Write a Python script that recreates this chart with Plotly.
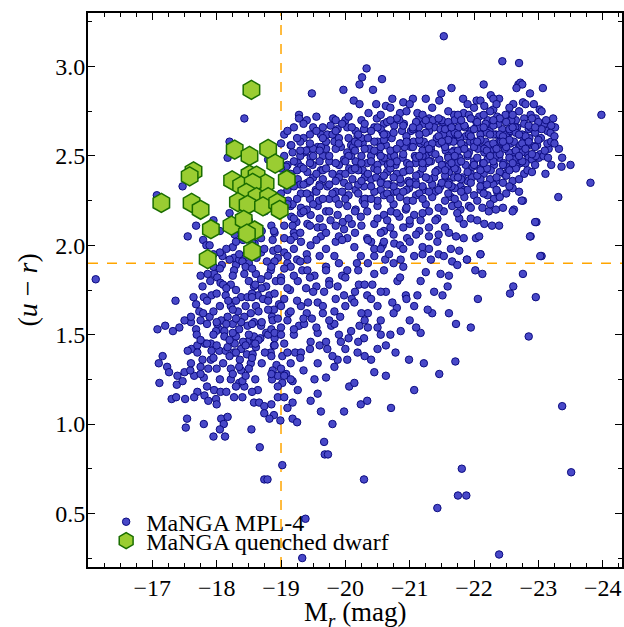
import plotly.graph_objects as go

# ---------------- data ----------------
# MaNGA MPL-4 sample: (M_r, u-r)
mpl4_blue_cloud = [
    (-16.12,1.81),(-17.07,2.28),(-17.47,2.33),(-17.68,2.11),(-17.55,2.05),(-17.79,2.03),(-17.84,2.00),
    (-18.09,1.94),(-18.25,1.99),(-18.08,1.89),(-17.36,1.69),(-17.08,1.53),(-17.20,1.55),(-17.32,1.52),
    (-17.42,1.54),(-17.16,1.38),(-17.10,1.34),(-17.23,1.32),(-17.11,1.23),(-17.26,1.29),(-17.30,1.14),
    (-17.37,1.15),(-17.51,1.14),(-17.54,1.03),(-17.52,0.98),(-17.80,1.00),(-17.95,0.93),(-18.13,0.93),
    (-18.07,1.03),(-18.17,1.04),(-18.11,1.00),(-18.05,0.97),(-18.54,0.97),(-18.67,0.87),(-18.74,0.69),
    (-17.61,1.42),(-17.55,1.41),(-17.70,1.44),(-17.78,1.36),(-17.91,1.36),(-17.87,1.31),(-17.80,1.26),
    (-17.65,1.27),(-17.50,1.29),(-17.39,1.27),(-17.38,1.22),(-17.47,1.24),(-17.59,1.30),(-17.70,1.18),
    (-17.81,1.16),(-17.87,1.13),(-17.96,1.19),(-18.06,1.18),(-17.99,1.14),(-17.91,1.45),(-17.92,1.41),
    (-17.82,1.45),(-17.68,1.53),(-17.69,1.50),(-17.60,1.57),(-17.50,1.58),(-17.60,1.60),(-17.73,1.63),
    (-17.68,1.67),(-17.64,1.71),(-17.92,1.72),(-17.78,1.77),(-17.75,1.83),(-17.96,1.84),(-17.86,1.84),
    (-18.01,1.82),(-18.06,1.79),(-18.14,1.72),(-18.04,1.41),(-18.14,1.41),(-18.22,1.31),(-18.27,1.40),
    (-18.36,1.36),(-18.38,1.42),(-18.47,1.39),(-18.53,1.45),(-18.48,1.46),(-18.58,1.49),(-18.68,1.48),
    (-18.61,1.43),(-18.56,1.39),(-18.53,1.34),(-18.38,1.30),(-18.22,1.25),(-18.35,1.23),(-18.43,1.21),
    (-18.40,1.24),(-18.27,1.15),(-18.64,1.19),(-18.58,1.12),(-18.66,1.12),(-18.74,1.10),(-18.74,1.06),
    (-18.27,1.93),(-18.30,1.89),(-18.35,1.92),(-18.43,1.94),(-18.51,1.98),(-18.61,1.98),(-18.69,1.96),
    (-18.74,1.98),(-18.27,1.86),(-18.43,1.84),(-18.61,1.84),(-18.69,1.81),(-18.77,1.77),(-18.58,1.77),
    (-18.22,1.78),(-18.30,1.75),(-18.38,1.71),(-18.48,1.71),(-18.64,1.72),(-18.72,1.70),(-18.61,1.66),
    (-18.53,1.62),(-18.43,1.60),(-18.33,1.63),(-18.22,1.66),(-18.17,1.60),(-18.07,1.58),(-18.04,1.53),
    (-18.12,1.52),(-18.25,1.56),(-18.38,1.57),(-18.48,1.55),(-18.58,1.57),(-18.69,1.55),(-18.77,1.51),
    (-18.30,1.49),(-18.41,1.46),(-18.28,1.45),(-18.17,1.43),(-17.99,1.52),(-18.01,1.56),(-18.12,1.49),
    (-18.28,2.06),(-18.41,2.03),(-18.59,2.01),(-18.69,2.04),(-18.18,1.69),(-17.79,1.62),(-17.75,1.58),
    (-17.89,1.60),(-18.43,2.71),(-18.20,2.58),(-18.17,2.49),(-18.80,2.48),(-18.85,2.11),(-18.90,2.07),
    (-18.87,2.03),(-17.89,2.00),(-18.05,1.96),(-18.20,1.92),(-18.35,1.95),(-18.50,1.90),(-18.62,1.93),
    (-18.78,1.91),(-18.95,1.93),(-19.10,1.90),(-19.25,1.92),(-19.40,1.95),(-18.88,1.97),(-19.05,1.96),
    (-18.82,1.72),(-18.86,1.60),(-18.90,1.48),(-18.84,1.40),(-18.93,1.33),(-18.86,1.25),(-18.95,1.15),
    (-18.80,1.50),(-18.92,1.80),(-18.97,1.67),(-19.05,1.45),(-19.12,1.62),(-19.08,1.28),(-19.14,1.75),
    (-19.22,1.40),(-19.18,1.12),(-19.28,1.55),(-19.35,1.30),(-19.42,1.68),(-19.33,1.86),(-19.48,1.59),
    (-19.52,1.25),(-19.60,1.44),(-19.65,1.62),(-19.55,1.77),(-19.70,1.88),(-19.78,1.55),(-19.88,1.36),
    (-19.92,1.60),(-19.95,1.83),(-20.05,1.48),(-20.10,1.70),(-20.18,1.90),(-20.22,1.55),(-20.35,1.62),
    (-20.42,1.78),(-20.55,1.58),(-20.62,1.92),(-20.70,1.50),(-20.80,1.65),(-20.90,1.88),(-21.00,1.58),
    (-21.12,1.72),(-21.25,1.85),(-21.35,1.62),(-21.45,1.95),
]

mpl4_middle = [
    (-21.53,3.17),(-20.33,2.99),(-20.26,2.94),(-20.57,2.93),(-20.22,2.90),(-19.48,2.85),(-19.97,2.87),
    (-20.43,2.87),(-20.13,2.81),(-20.22,2.79),(-20.48,2.79),(-20.73,2.82),(-20.90,2.80),(-21.05,2.82),
    (-21.25,2.82),(-21.49,2.85),(-21.46,2.81),(-20.63,2.78),(-19.28,2.73),(-19.28,2.71),(-19.81,2.71),
    (-20.36,2.74),(-20.49,2.71),(-20.85,2.74),(-21.15,2.71),(-21.30,2.71),(-21.40,2.69),(-21.51,2.69),
    (-19.77,2.67),(-19.88,2.65),(-20.03,2.66),(-20.16,2.64),(-20.29,2.65),(-20.45,2.66),(-20.58,2.63),
    (-20.76,2.67),(-20.91,2.68),(-21.07,2.65),(-21.22,2.68),(-21.38,2.66),(-21.48,2.65),(-19.62,2.62),
    (-20.19,2.61),(-19.15,2.56),(-19.44,2.54),(-19.57,2.55),(-19.70,2.54),(-19.83,2.58),(-19.93,2.55),
    (-20.09,2.56),(-20.27,2.57),(-20.37,2.54),(-20.50,2.58),(-20.63,2.56),(-20.76,2.53),(-20.86,2.57),
    (-21.02,2.55),(-21.17,2.57),(-21.33,2.54),(-21.46,2.57),(-21.56,2.53),(-19.36,2.52),(-20.03,2.52),
    (-19.10,2.45),(-19.26,2.46),(-19.31,2.44),(-19.41,2.41),(-19.49,2.45),(-19.62,2.42),(-19.75,2.47),
    (-19.80,2.40),(-19.90,2.45),(-19.98,2.48),(-20.06,2.43),(-20.16,2.47),(-20.27,2.42),(-20.34,2.46),
    (-20.45,2.43),(-20.58,2.47),(-20.65,2.41),(-20.78,2.45),(-20.89,2.49),(-20.96,2.42),(-21.09,2.46),
    (-21.20,2.43),(-21.33,2.47),(-21.43,2.42),(-21.53,2.45),(-19.46,2.49),(-20.09,2.50),(-20.71,2.50),
    (-21.25,2.50),(-19.26,2.37),(-19.41,2.35),(-19.54,2.31),(-19.65,2.37),(-19.72,2.33),(-19.85,2.30),
    (-19.98,2.35),(-20.11,2.37),(-20.16,2.31),(-20.29,2.33),(-20.40,2.37),(-20.55,2.31),(-20.68,2.34),
    (-20.76,2.30),(-20.86,2.35),(-20.99,2.32),(-21.09,2.36),(-21.22,2.31),(-21.35,2.34),(-21.48,2.33),
    (-21.56,2.37),(-19.31,2.29),(-19.10,2.31),(-19.15,2.22),(-19.31,2.21),(-19.46,2.17),(-19.57,2.22),
    (-19.70,2.19),(-19.77,2.14),(-19.88,2.17),(-20.03,2.22),(-20.16,2.20),(-20.24,2.16),(-20.34,2.19),
    (-20.50,2.22),(-20.60,2.17),(-20.71,2.19),(-20.84,2.16),(-20.94,2.20),(-21.07,2.17),(-21.17,2.14),
    (-21.30,2.19),(-21.43,2.15),(-21.53,2.19),(-19.41,2.12),(-19.96,2.13),(-20.45,2.12),(-19.59,2.25),
    (-20.27,2.25),(-20.96,2.25),(-18.89,2.08),(-19.05,2.04),(-19.20,2.07),(-19.31,2.02),(-19.46,2.00),
    (-19.62,2.05),(-19.70,1.98),(-19.83,1.94),(-19.85,2.02),(-20.03,2.04),(-20.14,1.99),(-20.24,1.94),
    (-20.34,2.04),(-20.45,1.98),(-20.58,2.00),(-20.68,1.95),(-20.76,2.01),(-20.86,1.92),(-20.96,2.04),
    (-21.07,1.94),(-21.20,1.99),(-21.33,1.92),(-21.43,2.02),(-21.53,1.94),(-19.10,1.94),(-19.41,1.92),
    (-19.57,2.10),(-19.98,2.09),(-20.60,2.08),(-21.15,2.08),(-18.84,1.86),(-19.00,1.82),(-19.15,1.88),
    (-19.26,1.80),(-19.39,1.76),(-19.52,1.83),(-19.67,1.74),(-19.75,1.80),(-19.88,1.77),(-20.03,1.86),
    (-19.98,1.72),(-20.14,1.68),(-20.21,1.78),(-20.34,1.72),(-20.45,1.84),(-20.50,1.66),(-20.63,1.74),
    (-20.73,1.68),(-20.81,1.80),(-20.94,1.72),(-21.07,1.66),(-21.17,1.80),(-21.28,1.64),(-21.38,1.74),
    (-21.51,1.72),(-21.48,1.84),(-19.05,1.70),(-18.89,1.64),(-19.31,1.66),(-19.57,1.68),(-19.83,1.63),
    (-19.41,1.86),(-18.87,1.58),(-19.00,1.54),(-19.10,1.58),(-19.20,1.50),(-19.36,1.56),(-19.46,1.46),
    (-19.57,1.51),(-19.72,1.42),(-19.83,1.56),(-19.93,1.46),(-20.09,1.52),(-20.19,1.40),(-20.29,1.48),
    (-20.40,1.36),(-20.50,1.54),(-20.63,1.44),(-20.78,1.40),(-20.86,1.52),(-20.99,1.36),(-21.17,1.51),
    (-21.22,1.34),(-18.89,1.44),(-19.02,1.38),(-19.15,1.34),(-19.31,1.40),(-19.57,1.34),(-19.83,1.32),
    (-20.03,1.36),(-18.87,1.30),(-18.95,1.27),(-19.02,1.23),(-19.18,1.24),(-19.26,1.19),(-19.46,1.13),
    (-19.57,1.17),(-19.62,1.07),(-19.70,1.26),(-19.98,1.07),(-20.06,1.21),(-20.14,1.23),(-20.24,1.11),
    (-20.34,1.13),(-20.45,1.29),(-20.63,1.27),(-20.71,1.09),(-21.07,1.19),(-21.46,1.28),(-19.10,1.09),
    (-18.89,1.05),(-18.99,1.02),(-19.18,1.03),(-19.25,1.01),(-18.82,1.03),(-19.80,1.00),(-19.67,0.90),
    (-19.68,0.83),(-19.73,0.83),(-19.02,0.77),(-20.29,0.69),(-18.79,0.69),(-19.38,0.47),(-19.33,0.25),
    (-21.43,0.53),(-19.16,2.56),(-19.18,2.52),(-19.08,2.44),(-19.39,2.53),(-19.16,2.16),(-19.24,2.13),
    (-19.18,2.11),(-19.31,2.18),(-19.21,2.05),(-19.11,2.25),(-19.18,2.23),
    (-19.05,2.62),(-19.20,2.66),(-19.35,2.60),(-19.50,2.66),(-19.62,2.55),(-19.72,2.62),(-19.90,2.60),
    (-20.00,2.70),(-20.12,2.55),(-20.25,2.60),(-20.40,2.50),(-19.15,2.38),(-19.30,2.34),(-19.45,2.28),
    (-19.60,2.34),(-19.75,2.26),(-19.92,2.40),(-20.05,2.28),(-20.20,2.42),(-20.32,2.26),(-20.48,2.38),
    (-19.02,2.25),(-19.40,2.20),(-19.65,2.10),(-19.90,2.05),(-20.10,2.12),(-20.40,2.02),(-20.70,2.10),
    (-21.00,2.12),(-21.30,2.05),(-21.55,2.10),(-20.55,1.98),(-20.85,2.00),(-21.20,1.95),
]

mpl4_red_sequence = [
    (-22.44,3.03),(-22.70,3.02),(-22.15,2.90),(-21.65,2.88),(-22.69,2.90),(-22.72,2.91),(-22.75,2.90),
    (-22.66,2.88),(-23.07,2.88),(-22.87,2.85),(-22.26,2.84),(-22.39,2.82),(-22.30,2.82),(-21.83,2.82),
    (-22.04,2.81),(-22.10,2.81),(-22.61,2.79),(-22.76,2.80),(-22.93,2.79),(-23.02,2.76),(-23.23,2.71),
    (-22.16,2.78),(-22.30,2.76),(-22.51,2.73),(-21.69,2.73),(-21.84,2.74),(-21.92,2.73),(-22.08,2.72),
    (-22.21,2.70),(-22.36,2.72),(-22.49,2.73),(-22.65,2.70),(-22.78,2.71),(-22.88,2.73),(-22.96,2.71),
    (-23.09,2.68),(-21.64,2.66),(-21.72,2.65),(-21.82,2.67),(-21.95,2.64),(-22.03,2.66),(-22.13,2.63),
    (-22.26,2.67),(-22.34,2.62),(-22.44,2.65),(-22.54,2.63),(-22.67,2.66),(-22.75,2.62),(-22.85,2.65),
    (-23.14,2.64),(-23.19,2.63),(-21.66,2.62),(-21.87,2.61),(-21.61,2.58),(-21.74,2.59),(-21.84,2.56),
    (-21.97,2.59),(-22.08,2.55),(-22.18,2.58),(-22.29,2.54),(-22.39,2.58),(-22.47,2.55),(-22.57,2.57),
    (-22.70,2.55),(-22.78,2.59),(-22.88,2.56),(-23.16,2.54),(-23.14,2.57),(-21.69,2.53),(-21.92,2.52),
    (-22.16,2.52),(-22.36,2.51),(-22.62,2.52),(-22.83,2.51),(-23.03,2.51),(-21.64,2.48),(-21.77,2.49),
    (-21.87,2.45),(-22.00,2.47),(-22.10,2.43),(-22.21,2.48),(-22.31,2.45),(-22.39,2.49),(-22.52,2.44),
    (-22.62,2.48),(-22.72,2.46),(-22.85,2.49),(-23.01,2.49),(-21.61,2.41),(-21.74,2.42),(-21.95,2.40),
    (-22.60,2.44),(-22.78,2.40),(-22.83,2.42),(-23.11,2.40),(-22.15,2.40),(-21.61,2.35),(-21.69,2.38),
    (-21.79,2.33),(-21.90,2.36),(-21.97,2.38),(-22.10,2.37),(-22.15,2.33),(-22.34,2.36),(-22.47,2.40),
    (-22.60,2.32),(-22.70,2.30),(-22.76,2.25),(-21.64,2.27),(-21.85,2.31),(-22.10,2.31),(-22.21,2.28),
    (-22.36,2.30),(-22.31,2.26),(-21.66,2.22),(-21.79,2.20),(-21.92,2.22),(-22.13,2.21),(-22.23,2.19),
    (-22.34,2.20),(-22.62,2.20),(-21.77,2.15),(-21.84,2.12),(-21.95,2.15),(-22.05,2.14),(-22.16,2.12),
    (-22.28,2.11),(-22.39,2.11),(-21.74,2.18),(-21.61,2.07),(-21.72,2.05),(-21.84,2.04),(-22.03,2.04),
    (-22.08,2.05),(-21.64,1.98),(-21.77,1.97),(-22.10,1.95),(-21.66,1.91),(-21.74,1.89),(-21.89,1.92),
    (-22.88,2.05),(-22.97,2.13),(-23.05,1.94),
    (-20.52,2.52),(-20.60,2.68),(-20.66,2.45),(-20.72,2.60),(-20.80,2.40),(-20.84,2.70),(-20.92,2.55),
    (-20.98,2.36),(-21.02,2.64),(-21.08,2.50),(-21.12,2.74),(-21.16,2.40),(-21.22,2.58),(-21.26,2.46),
    (-21.30,2.64),(-21.34,2.52),(-21.38,2.38),(-21.42,2.60),(-21.46,2.48),(-21.50,2.70),(-21.54,2.56),
    (-21.58,2.44),(-21.62,2.62),(-21.66,2.52),(-21.70,2.70),(-21.74,2.46),(-21.78,2.60),(-21.82,2.38),
    (-21.86,2.66),(-21.90,2.50),(-21.94,2.58),(-21.98,2.44),(-22.02,2.70),(-22.06,2.54),(-22.10,2.62),
    (-22.14,2.46),(-22.18,2.68),(-22.22,2.56),(-22.26,2.42),(-22.30,2.62),(-22.34,2.50),(-22.38,2.68),
    (-22.42,2.58),(-22.46,2.46),(-22.50,2.62),(-22.54,2.52),(-22.58,2.70),(-22.62,2.58),(-22.66,2.44),
    (-22.70,2.62),(-22.74,2.52),(-22.78,2.68),(-22.82,2.56),(-22.86,2.60),(-22.90,2.48),(-22.94,2.64),
    (-22.98,2.56),(-23.04,2.60),(-23.08,2.50),(-23.12,2.70),(-23.20,2.58),(-23.26,2.66),(-23.32,2.54),
    (-20.56,2.36),(-20.64,2.62),(-20.76,2.50),(-20.88,2.64),(-20.96,2.46),(-21.06,2.58),(-21.14,2.66),
    (-21.20,2.50),(-21.28,2.56),(-21.36,2.70),(-21.44,2.42),(-21.52,2.62),(-21.60,2.50),(-21.68,2.58),
    (-21.76,2.66),(-21.84,2.54),(-21.92,2.62),(-22.00,2.58),(-22.08,2.66),(-22.16,2.54),(-22.24,2.64),
    (-22.32,2.56),(-22.40,2.62),(-22.48,2.54),(-22.56,2.64),(-22.64,2.66),(-22.72,2.56),(-22.80,2.46),
    (-22.88,2.66),(-22.96,2.50),(-21.40,2.30),(-21.70,2.32),(-22.00,2.28),(-22.30,2.34),(-22.60,2.36),
    (-21.10,2.28),(-20.80,2.30),(-20.60,2.28),
]

mpl4_outliers = [
    (-23.98,2.73),(-23.81,2.35),(-23.31,2.27),(-23.37,2.49),(-23.50,2.45),(-23.36,2.44),(-23.20,2.45),
    (-22.95,2.13),(-22.87,2.05),(-23.03,1.94),(-22.76,1.84),(-22.61,1.77),(-22.56,1.73),(-22.96,1.71),
    (-22.85,1.49),(-23.37,1.10),(-23.51,0.73),(-22.39,0.27),(-21.81,0.75),(-21.75,0.60),(-21.88,0.60),
    (-21.71,1.35),(-21.95,1.54),(-21.72,1.56),(-22.06,1.70),(-22.02,1.86),(-22.13,1.84),(-21.89,1.92),
    (-22.10,1.95),(-22.60,2.19),(-22.74,2.25),(-21.61,1.83),(-21.59,1.77),(-21.61,1.62),
]

# denser parts of the cloud, read row by row: (u-r, [M_r values])
red_core_rows = [
    (2.79, [-21.0, -21.9, -22.35, -22.8]),
    (2.77, [-20.7, -21.35, -22.0, -22.55]),
    (2.75, [-20.95, -21.6, -22.25, -22.7, -23.05]),
    (2.73, [-20.55, -21.2, -21.75, -22.15, -22.6]),
    (2.71, [-20.8, -21.45, -21.95, -22.4, -22.9]),
    (2.69, [-20.65, -21.1, -21.6, -22.05, -22.5, -23.0]),
    (2.67, [-20.9, -21.3, -21.85, -22.3, -22.85, -23.2]),
    (2.65, [-20.55, -21.05, -21.55, -22.0, -22.55, -23.05]),
    (2.63, [-20.75, -21.25, -21.7, -22.2, -22.65, -22.95]),
    (2.61, [-20.95, -21.45, -21.95, -22.45, -22.8, -23.25]),
    (2.59, [-20.6, -21.15, -21.6, -22.1, -22.55, -23.0]),
    (2.57, [-20.85, -21.35, -21.8, -22.3, -22.75, -23.25]),
    (2.55, [-20.55, -21.05, -21.55, -22.0, -22.5, -22.95]),
    (2.53, [-20.7, -21.2, -21.75, -22.2, -22.65, -23.1]),
    (2.51, [-20.9, -21.4, -21.9, -22.4, -22.9]),
    (2.49, [-20.6, -21.1, -21.6, -22.05, -22.55, -23.15]),
    (2.47, [-20.8, -21.3, -21.8, -22.3, -22.75]),
    (2.45, [-20.5, -21.0, -21.5, -22.0, -22.45, -22.95]),
    (2.43, [-20.7, -21.2, -21.7, -22.2, -22.65]),
    (2.41, [-20.9, -21.4, -21.9, -22.4, -22.9]),
    (2.39, [-20.6, -21.1, -21.55, -22.05, -22.5]),
    (2.37, [-20.85, -21.3, -21.8, -22.25, -22.7]),
    (2.35, [-20.55, -21.0, -21.5, -21.95, -22.45]),
    (2.33, [-20.75, -21.2, -21.65, -22.1, -22.55]),
    (2.31, [-20.95, -21.45, -21.9, -22.35]),
    (2.29, [-20.65, -21.15, -21.6, -22.15, -22.5]),
    (2.27, [-20.85, -21.35, -21.85, -22.4]),
    (2.25, [-20.5, -21.05, -21.55, -22.05]),
    (2.23, [-20.75, -21.25, -21.75, -22.25]),
    (2.21, [-20.95, -21.45, -21.95, -22.45]),
]

red_band_rows = [
    (2.70, [-19.4, -19.85, -20.25, -20.7, -21.25, -21.8, -22.3]),
    (2.66, [-19.65, -20.1, -20.5, -21.05, -21.65, -22.15, -22.6, -22.95]),
    (2.62, [-19.45, -19.8, -20.2, -20.6, -21.15, -21.75, -22.25, -22.7]),
    (2.58, [-19.3, -19.7, -20.15, -20.45, -20.95, -21.5, -22.05, -22.45, -22.85]),
    (2.54, [-19.5, -19.85, -20.3, -20.8, -21.3, -21.85, -22.35, -22.8]),
    (2.50, [-19.3, -19.65, -20.05, -20.55, -21.15, -21.7, -22.25, -22.7]),
    (2.46, [-19.45, -19.85, -20.25, -20.7, -21.2, -21.65, -22.15, -22.6]),
    (2.42, [-19.25, -19.65, -20.1, -20.5, -21.0, -21.55, -22.1, -22.55]),
    (2.38, [-19.5, -19.9, -20.3, -20.75, -21.25, -21.75, -22.35]),
    (2.34, [-19.35, -19.75, -20.2, -20.65, -21.1, -21.6, -22.2]),
    (2.30, [-19.55, -19.95, -20.45, -20.9, -21.3, -21.8]),
    (2.26, [-19.45, -19.85, -20.3, -20.7, -21.2, -21.7]),
]

green_valley_rows = [
    (2.72, [-19.55, -20.05]),
    (2.68, [-19.35, -19.95, -20.3]),
    (2.64, [-19.1, -19.55, -19.85, -20.4]),
    (2.60, [-19.25, -19.65, -20.05, -20.35]),
    (2.57, [-19.0, -19.45, -19.9, -20.2]),
    (2.53, [-19.3, -19.6, -20.15, -20.45]),
    (2.50, [-19.05, -19.5, -19.75, -20.25]),
    (2.47, [-19.2, -19.6, -20.0, -20.4]),
    (2.43, [-19.0, -19.35, -19.7, -20.15]),
    (2.40, [-19.15, -19.55, -20.0, -20.35]),
    (2.36, [-19.05, -19.45, -19.85, -20.25]),
    (2.33, [-19.2, -19.6, -20.05, -20.4]),
    (2.29, [-19.0, -19.4, -19.8, -20.2]),
    (2.26, [-19.25, -19.65, -20.0, -20.4, -18.9]),
    (2.23, [-19.1, -19.5, -19.9, -20.3, -18.6]),
    (2.19, [-19.0, -19.35, -19.75, -20.15, -18.75]),
    (2.18, [-20.8, -21.2, -18.2]),
    (2.15, [-19.2, -19.6, -20.05, -20.5]),
    (2.14, [-20.65, -21.0, -21.4, -17.95, -18.5]),
    (2.11, [-19.05, -19.45, -19.85, -20.25]),
    (2.10, [-20.9, -21.3]),
    (2.08, [-18.05, -18.7]),
    (2.07, [-19.3, -19.7, -20.15, -20.55]),
    (2.06, [-20.75, -21.1, -21.45]),
    (2.03, [-19.15, -19.55, -19.95, -20.35]),
    (2.02, [-20.6, -21.0, -18.3, -18.55]),
    (1.98, [-20.9, -21.3]),
]

blue_core_rows = [
    (1.98, [-18.15, -18.95, -19.2]),
    (1.95, [-17.95, -18.6]),
    (1.94, [-19.6, -20.45]),
    (1.91, [-18.4, -18.9, -19.3]),
    (1.90, [-19.9, -20.35, -20.75]),
    (1.88, [-17.95, -18.45, -18.85]),
    (1.87, [-18.05, -18.55, -19.05]),
    (1.86, [-19.7, -20.2, -20.6]),
    (1.83, [-18.25, -18.8, -19.2]),
    (1.82, [-19.45, -20.0, -20.85]),
    (1.80, [-17.9, -18.5, -19.0]),
    (1.78, [-19.75, -20.3, -18.1, -18.6]),
    (1.76, [-18.15, -18.7, -19.1]),
    (1.74, [-19.5, -20.15, -20.55]),
    (1.73, [-18.0, -18.55, -18.9]),
    (1.71, [-17.8, -18.55]),
    (1.70, [-19.85, -20.4, -20.95]),
    (1.69, [-17.85, -18.3, -18.8, -19.25]),
    (1.66, [-18.05, -18.45, -19.0, -19.65, -20.0]),
    (1.64, [-18.25, -18.8]),
    (1.63, [-17.95, -18.65, -19.15]),
    (1.62, [-19.4, -20.25, -20.75]),
    (1.59, [-18.3, -18.95, -19.35]),
    (1.58, [-19.75, -20.3]),
    (1.57, [-18.0, -18.7]),
    (1.56, [-17.85, -18.15, -18.55]),
    (1.54, [-19.55, -20.35, -21.1]),
    (1.53, [-18.35, -18.85, -19.2]),
    (1.51, [-18.25, -18.9]),
    (1.50, [-17.95, -18.5, -19.0, -19.9, -20.55]),
    (1.47, [-17.75, -18.2, -18.65]),
    (1.46, [-19.7, -20.2]),
    (1.45, [-17.85, -18.6]),
    (1.44, [-18.0, -18.45, -18.9]),
    (1.42, [-19.45, -20.0, -20.5]),
    (1.40, [-17.7, -18.3, -18.75, -19.1]),
    (1.38, [-19.8, -20.3, -18.2, -18.85]),
    (1.37, [-17.95, -18.55, -19.3]),
    (1.34, [-17.6, -18.1, -18.7]),
    (1.32, [-17.75, -18.35]),
    (1.31, [-18.0, -18.5, -19.0]),
    (1.28, [-17.75, -18.25, -18.85]),
    (1.27, [-18.45, -19.05]),
    (1.25, [-18.05, -18.6, -19.15]),
    (1.21, [-17.85, -18.3, -18.95]),
    (1.18, [-18.15, -18.55]),
    (1.15, [-17.65, -18.4, -19.05]),
    (1.11, [-18.0, -18.85]),
]

# MaNGA quenched dwarfs
dwarf_mr = [-18.54, -18.28, -18.51, -18.80, -18.91, -17.64, -17.58, -19.09, -18.24, -18.51,
            -18.62, -18.38, -18.76, -18.56, -18.46, -18.62, -18.80, -18.33, -18.48, -18.72,
            -18.94, -18.98, -17.14, -17.61, -17.75, -17.91, -18.23, -18.42, -18.59, -18.47,
            -18.55, -17.86]
dwarf_ur = [2.87, 2.535, 2.50, 2.54, 2.457, 2.414, 2.386, 2.367, 2.363, 2.395,
            2.39, 2.334, 2.345, 2.349, 2.293, 2.27, 2.27, 2.242, 2.227, 2.218,
            2.237, 2.199, 2.237, 2.237, 2.199, 2.09, 2.11, 2.143, 2.083, 2.065,
            1.966, 1.923]

x_ticks = [-17, -18, -19, -20, -21, -22, -23, -24]
x_ticktext = ["\u221217", "\u221218", "\u221219", "\u221220", "\u221221", "\u221222", "\u221223", "\u221224"]
y_ticks = [0.5, 1.0, 1.5, 2.0, 2.5, 3.0]
mr_cut = -19.0
ur_cut = 1.9

# ---------------- figure ----------------
all_pts = mpl4_blue_cloud + mpl4_middle + mpl4_red_sequence + mpl4_outliers
for rows in (red_core_rows, red_band_rows, green_valley_rows, blue_core_rows):
    for ur, mrs in rows:
        all_pts += [(mr, ur) for mr in mrs]
mpl4_mr = [p[0] for p in all_pts]
mpl4_ur = [p[1] for p in all_pts]

FONT = "Liberation Serif"
fig = go.Figure()
fig.add_trace(go.Scatter(
    x=mpl4_mr, y=mpl4_ur, mode="markers", name="MaNGA MPL-4", legend="legend",
    marker=dict(symbol="circle", size=7.5, color="#4848c8", line=dict(color="#0c0c80", width=1)),
))
fig.add_trace(go.Scatter(
    x=dwarf_mr, y=dwarf_ur, mode="markers", name="MaNGA quenched dwarf", legend="legend2",
    marker=dict(symbol="hexagon", size=19, color="#9acd32", line=dict(color="#1a6e00", width=1.5)),
))

dash_line = dict(color="#ffa500", width=1.5, dash="10px,9px")
fig.add_shape(type="line", xref="x", yref="paper", x0=mr_cut, x1=mr_cut, y0=0, y1=1,
              line=dash_line, layer="below")
fig.add_shape(type="line", xref="paper", yref="y", x0=0, x1=1, y0=ur_cut, y1=ur_cut,
              line=dash_line, layer="below")

axis_common = dict(
    showline=True, linecolor="black", linewidth=2, mirror="ticks",
    ticks="inside", ticklen=7, tickwidth=1, tickcolor="black",
    showgrid=False, zeroline=False, automargin=False,
    tickfont=dict(family=FONT, size=24, color="black"),
)
fig.update_xaxes(
    range=[-16.0, -24.3], tickvals=x_ticks, ticktext=x_ticktext, ticklabelstandoff=-2,
    minor=dict(dtick=0.25, tick0=0, ticks="inside", ticklen=4, tickcolor="black", showgrid=False),
    **axis_common,
)
fig.update_yaxes(
    range=[0.2, 3.3], tickvals=y_ticks, tickformat=".1f", ticklabelstandoff=-4,
    minor=dict(dtick=0.25, tick0=0, ticks="inside", ticklen=4, tickcolor="black", showgrid=False),
    **axis_common,
)

# axis titles as annotations for exact placement
fig.add_annotation(text="M<sub><i>r</i></sub> (mag)", xref="paper", yref="paper",
                   x=0.5, y=-0.084, xanchor="center", yanchor="middle", showarrow=False,
                   font=dict(family=FONT, size=27, color="black"))
fig.add_annotation(text="(<i>u</i> \u2212 <i>r</i>)", xref="paper", yref="paper",
                   x=-0.115, y=0.5, xanchor="center", yanchor="middle", showarrow=False,
                   textangle=-90, font=dict(family=FONT, size=28, color="black"))

legend_common = dict(
    bgcolor="rgba(0,0,0,0)", borderwidth=0, xanchor="left", yanchor="middle",
    font=dict(family=FONT, size=24, color="black"),
)
fig.update_layout(
    width=624, height=627,
    margin=dict(l=88, r=2, t=13, b=60),
    plot_bgcolor="white", paper_bgcolor="white",
    legend=dict(x=0.034, y=0.081, **legend_common),
    legend2=dict(x=0.034, y=0.047, **legend_common),
    showlegend=True,
)

fig.write_html("out.html")
